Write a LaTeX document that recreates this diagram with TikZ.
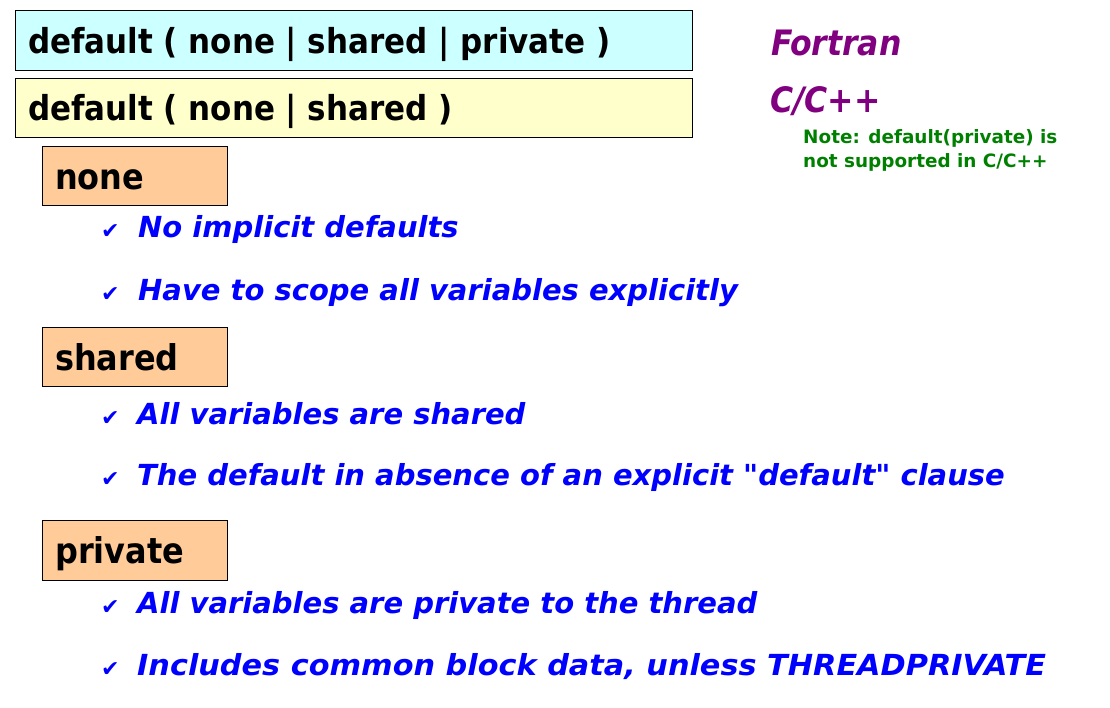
\documentclass[tikz,border=0pt]{standalone}
\usepackage{fontspec}
\setmainfont{DejaVu Sans}
\newfontfamily\headfont{DejaVu Sans Condensed}
\newfontfamily\bulfont{DejaVu Sans}
\newfontfamily\langfont{DejaVu Sans Condensed}
\definecolor{cyanfill}{HTML}{CCFFFF}
\definecolor{yellowfill}{HTML}{FFFFCC}
\definecolor{orangefill}{HTML}{FFCC99}
\definecolor{purp}{HTML}{800080}
\definecolor{grn}{HTML}{008000}
\definecolor{blu}{HTML}{0000FF}
\tikzset{
  box/.style={draw=black, line width=1pt, anchor=north west, inner sep=0pt},
  headtxt/.style={anchor=base west, inner sep=0pt, font=\headfont\bfseries\fontsize{34.4}{40}\selectfont},
  labtxt/.style={anchor=base west, inner sep=0pt, font=\headfont\bfseries\fontsize{35.5}{40}\selectfont},
  bultxt/.style={anchor=base west, inner sep=0pt, text=blu, font=\bulfont\bfseries\itshape\fontsize{29}{34}\selectfont},
  chk/.style={anchor=base west, inner sep=0pt, text=blu, font=\bulfont\fontsize{22}{26}\selectfont},
  langtxt/.style={anchor=base west, inner sep=0pt, text=purp, font=\langfont\bfseries\itshape\fontsize{35}{40}\selectfont},
  notetxt/.style={anchor=base west, inner sep=0pt, text=grn, font=\bulfont\bfseries\fontsize{18.4}{22}\selectfont}
}
\begin{document}
\begin{tikzpicture}[x=1pt,y=-1pt]
\useasboundingbox (0,0) rectangle (1110,707);
% top boxes
\node[box, fill=cyanfill, minimum width=677pt, minimum height=60pt] (fbox) at (15,10) {};
\node[box, fill=yellowfill, minimum width=677pt, minimum height=59pt] (cbox) at (15,78) {};
\node[headtxt] (ftxt) at (28,53) {default ( none | shared | private )};
\node[headtxt] (ctxt) at (28,120) {default ( none | shared )};
% language labels
\node[langtxt] (fortran) at (771,55) {Fortran};
\node[langtxt] (cpp) at (770,112) {C/C++};
\node[notetxt] (note1) at (803,143) {Note: default(private) is};
\node[notetxt] (note2) at (803,167) {not supported in C/C++};
% none
\node[box, fill=orangefill, minimum width=185pt, minimum height=59pt] (nonebox) at (42,146) {};
\node[labtxt] (nonetxt) at (55,189) {none};
\node[chk] (c1) at (101,238) {✔};
\node[bultxt] (b1) at (138,237) {No implicit defaults};
\node[chk] (c2) at (101,301) {✔};
\node[bultxt] (b2) at (138,300) {Have to scope all variables explicitly};
% shared
\node[box, fill=orangefill, minimum width=185pt, minimum height=59pt] (sharedbox) at (42,327) {};
\node[labtxt] (sharedtxt) at (55,370) {shared};
\node[chk] (c3) at (101,425) {✔};
\node[bultxt] (b3) at (137,424) {All variables are shared};
\node[chk] (c4) at (101,486) {✔};
\node[bultxt] (b4) at (137,485) {The default in absence of an explicit "default" clause};
% private
\node[box, fill=orangefill, minimum width=185pt, minimum height=60pt] (privbox) at (42,520) {};
\node[labtxt] (privtxt) at (55,563) {private};
\node[chk] (c5) at (101,614) {✔};
\node[bultxt] (b5) at (137,613) {All variables are private to the thread};
\node[chk] (c6) at (101,676) {✔};
\node[bultxt] (b6) at (137,675) {\scalebox{1.045}[1]{Includes common block data, unless THREADPRIVATE}};
\end{tikzpicture}
\end{document}
